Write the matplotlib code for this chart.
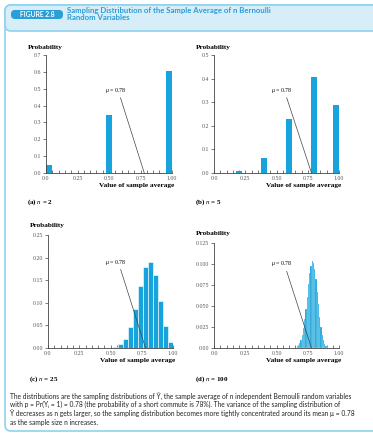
import numpy as np
import matplotlib
matplotlib.use("Agg")
import matplotlib.pyplot as plt
from matplotlib.patches import FancyBboxPatch
from matplotlib.ticker import MultipleLocator, FixedLocator

# Valores
x_n2 = [0.0, 0.5, 1.0]
p_n2 = [0.048, 0.343, 0.608]

x_n5 = [0.0, 0.2, 0.4, 0.6, 0.8, 1.0]
p_n5 = [0.001, 0.009, 0.065, 0.229, 0.406, 0.289]

x_n25 = [0.48, 0.52, 0.56, 0.60, 0.64, 0.68, 0.72, 0.76, 0.80, 0.84, 0.88, 0.92, 0.96, 1.00]
p_n25 = [0.001, 0.003, 0.008, 0.021, 0.046, 0.087, 0.137, 0.179, 0.190, 0.161, 0.104, 0.048, 0.014, 0.002]

x_n100 = [0.66, 0.67, 0.68, 0.69, 0.70, 0.71, 0.72, 0.73, 0.74, 0.75, 0.76, 0.77, 0.78,
          0.79, 0.80, 0.81, 0.82, 0.83, 0.84, 0.85, 0.86, 0.87, 0.88, 0.89, 0.90]
p_n100 = [0.002, 0.004, 0.006, 0.010, 0.016, 0.024, 0.035, 0.047, 0.061, 0.076, 0.089, 0.098, 0.103,
          0.101, 0.094, 0.082, 0.067, 0.052, 0.037, 0.025, 0.015, 0.009, 0.005, 0.002, 0.001]

mu = 0.78
xtick_labels = ["0.0", "0.25", "0.50", "0.75", "1.00"]

BLUE = "#17a4dc"
LIGHT = "#d7eef8"
EDGE = "#8fd2ef"
SERIF = "Liberation Serif"
SANS = ["Lato", "DejaVu Sans"]

plt.rcParams["mathtext.fontset"] = "custom"
plt.rcParams["mathtext.rm"] = SERIF
plt.rcParams["mathtext.it"] = SERIF + ":italic"

W, H = 373, 437
fig = plt.figure(figsize=(W / 100, H / 100), dpi=100)

# Fondo en coordenadas de píxel
bg = fig.add_axes([0, 0, 1, 1])
bg.set_xlim(0, W)
bg.set_ylim(H, 0)
bg.axis("off")
bg.add_patch(FancyBboxPatch((5, 5), 420, 426, boxstyle="round,pad=0,rounding_size=6",
                            fc="white", ec=EDGE, lw=1.2))
bg.add_patch(FancyBboxPatch((5, 5), 420, 26, boxstyle="round,pad=0,rounding_size=6",
                            fc=LIGHT, ec=EDGE, lw=1.2))
bg.add_patch(FancyBboxPatch((11, 10), 52, 9, boxstyle="round,pad=0,rounding_size=4",
                            fc="#2a9ed8", ec="none"))
bg.text(37, 14.8, "FIGURE 2.8", color="white", fontsize=4.9, fontweight="bold",
        family=SANS, ha="center", va="center")
bg.text(67, 14.5, "Sampling Distribution of the Sample Average of n Bernoulli\nRandom Variables",
        color="#2a9ed8", fontsize=5.6, fontweight="bold", family=SANS,
        ha="left", va="center", linespacing=1.0)

caption = ["The distributions are the sampling distributions of Ȳ, the sample average of n independent Bernoulli random variables",
           "with p = Pr(Yᵢ = 1) = 0.78 (the probability of a short commute is 78%). The variance of the sampling distribution of",
           "Ȳ decreases as n gets larger, so the sampling distribution becomes more tightly concentrated around its mean μ = 0.78",
           "as the sample size n increases."]
for i, line in enumerate(caption):
    bg.text(10, 396 + 8.8 * i, line, fontsize=4.75, family=SANS, color="#222222",
            ha="left", va="center")


def px_axes(x0, x1, y0, y1):
    return fig.add_axes([x0 / W, 1 - y1 / H, (x1 - x0) / W, (y1 - y0) / H])


def panel(rect, xs, ps, width, align, ymax, ystep, yfmt, label, label_y, txt_xy, ylab_y, edge):
    ax = px_axes(*rect)
    xs = np.asarray(xs)
    if align == "center":
        pos = np.clip(xs, width / 2, 1 - width / 2)
    else:
        pos = xs
    ax.bar(pos, ps, width=width, align=align, color=BLUE,
           edgecolor="white" if edge else BLUE, linewidth=edge if edge else 0, zorder=2)
    ax.set_xlim(0, 1)
    ax.set_ylim(0, ymax)
    for s in ["top", "right"]:
        ax.spines[s].set_visible(False)
    for s in ["left", "bottom"]:
        ax.spines[s].set_linewidth(0.6)
        ax.spines[s].set_color("#444444")
    ax.xaxis.set_major_locator(FixedLocator([0, 0.25, 0.5, 0.75, 1.0]))
    ax.set_xticklabels(xtick_labels)
    ax.xaxis.set_minor_locator(MultipleLocator(0.05))
    yt = np.arange(0, ymax + ystep / 2, ystep)
    ax.set_yticks(yt)
    ax.set_yticklabels([("0.00" if v == 0 and yfmt != "{:.1f}" else yfmt.format(v)) for v in yt])
    ax.tick_params(axis="x", which="both", direction="in", length=2, width=0.5,
                   labelsize=4.2, pad=2, colors="#444444", labelcolor="#555555")
    ax.tick_params(axis="y", direction="out", length=2, width=0.5,
                   labelsize=4.2, pad=1.5, colors="#444444", labelcolor="#555555")
    for t in ax.get_xticklabels() + ax.get_yticklabels():
        t.set_family(SERIF)
    ax.set_xlabel("Value of sample average", family=SERIF, fontweight="bold",
                  fontsize=5.2, labelpad=1.5, ha="right", x=1.02)
    ax.annotate("$\\mu$ = 0.78", xy=(mu, 0), xytext=txt_xy, fontsize=4.2, ha="center",
                va="center", family=SERIF,
                arrowprops=dict(arrowstyle="-", color="#444444", lw=0.5,
                                shrinkA=0, shrinkB=0, relpos=(0.7, 0.0)), zorder=4)
    bg.text(rect[0] - 18, ylab_y, "Probability", family=SERIF, fontweight="bold",
            fontsize=5.2, ha="left", va="center")
    bg.text(rect[0] - 19, label_y, label, family=SERIF, fontweight="bold",
            fontsize=5, ha="left", va="center")
    return ax


panel((46, 172, 55, 173), x_n2, p_n2, 0.045, "center", 0.7, 0.1, "{:.1f}",
      "(a) $n$ = 2", 202, (0.55, 0.49), 47, 0)
panel((214, 339, 55, 173), x_n5, p_n5, 0.045, "center", 0.5, 0.1, "{:.1f}",
      "(b) $n$ = 5", 202, (0.54, 0.35), 47, 0)
panel((48, 173, 235, 348), x_n25, p_n25, 0.04, "edge", 0.25, 0.05, "{:.2f}",
      "(c) $n$ = 25", 379, (0.54, 0.19), 225, 0.4)
panel((214, 339, 243, 348), x_n100, p_n100, 0.01, "edge", 0.125, 0.025, "{:.3f}",
      "(d) $n$ = 100", 379, (0.54, 0.10), 233, 0.15)

fig.savefig("out.png", dpi=100)
